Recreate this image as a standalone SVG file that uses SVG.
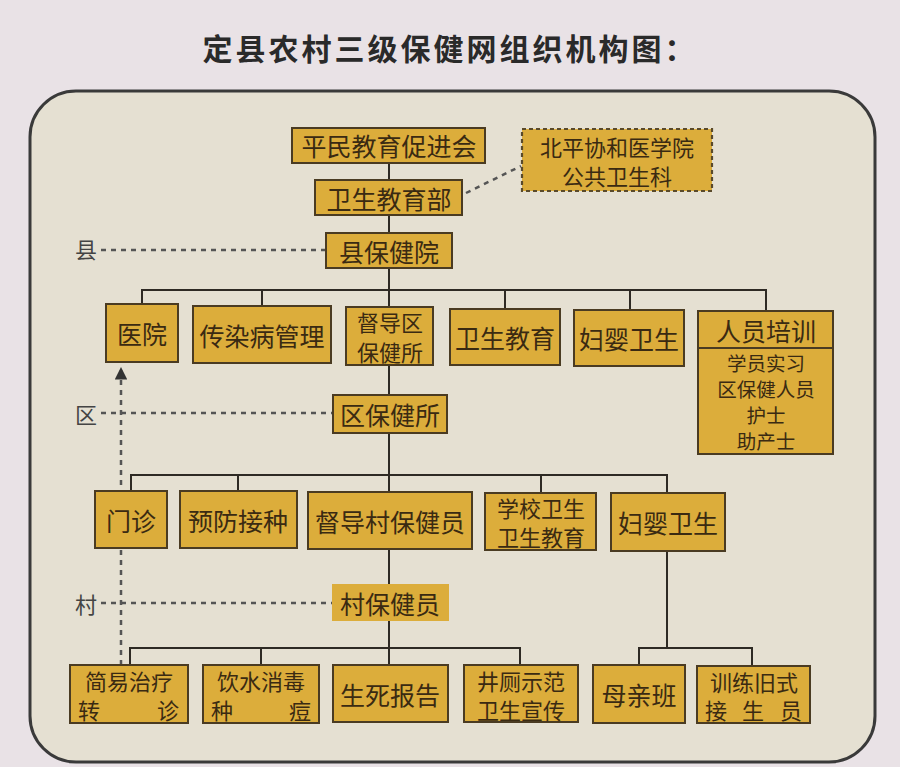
<svg xmlns="http://www.w3.org/2000/svg" width="900" height="767" viewBox="0 0 900 767">
<defs>
<style>
.bx{fill:#dcad3b;stroke:#4a3b22;stroke-width:2}
.nb{fill:#dcad3b;stroke:none}
.db{fill:#dcad3b;stroke:#5a4a2a;stroke-width:2.2;stroke-dasharray:4 3}
.t{font-family:"Noto Sans CJK SC","Noto Sans",sans-serif;font-size:25px;fill:#3a2a12;text-anchor:middle;dominant-baseline:central}
.t2{font-size:22px}
.t3{font-size:19.5px}
.lb{font-family:"Noto Sans CJK SC","Noto Sans",sans-serif;font-size:22px;fill:#444;text-anchor:middle;dominant-baseline:central}
.ln{fill:none;stroke:#2e2a24;stroke-width:2}
.dt{fill:none;stroke:#555;stroke-width:2.5;stroke-dasharray:5 5}
</style>
<marker id="ah" viewBox="0 0 10 10" refX="10" refY="5" markerWidth="5" markerHeight="5" orient="auto">
<path d="M0,0 L10,5 L0,10 z" fill="#333"/>
</marker>
</defs>
<rect x="0" y="0" width="900" height="767" fill="#e9e2e6"/>
<text x="450" y="47" font-family="'Noto Sans CJK SC',sans-serif" font-size="30" font-weight="bold" fill="#2a2a2a" text-anchor="middle" dominant-baseline="central" letter-spacing="3">定县农村三级保健网组织机构图：</text>
<rect id="frame" x="30" y="91" width="845" height="671" rx="46" ry="46" fill="#e5e0d2" stroke="#3a3a3a" stroke-width="3"/>

<g id="connectors">
<path class="ln" d="M389,163 V180 M389,215 V233 M389,268 V307 M389,365 V395 M389,433 V492 M389,549 V584 M389,621 V665"/>
<path class="ln" d="M142,304 V290 H766 V311 M262,290 V306 M505,290 V309 M630,290 V310"/>
<path class="ln" d="M131,491 V475 H667 V493 M238,475 V491 M541,475 V493"/>
<path class="ln" d="M130,665 V648 H520 V665 M261,648 V665"/>
<path class="ln" d="M667,551 V648 M639,665 V648 H752 V666"/>
<path class="dt" d="M466,193 L521,166"/>
<path class="dt" d="M101,250 H326"/>
<path class="dt" d="M101,413 H333"/>
<path class="dt" d="M101,603 H332"/>
<path class="dt" d="M121,665 V367" marker-end="url(#ah)"/>
</g>

<g id="lbl-xian"><text class="lb" x="86" y="248">县</text></g>
<g id="lbl-qu"><text class="lb" x="86" y="413">区</text></g>
<g id="lbl-cun"><text class="lb" x="86" y="603">村</text></g>

<g id="n-pingmin"><rect class="bx" x="292" y="128" width="193" height="35"/><text class="t" x="389" y="145">平民教育促进会</text></g>
<g id="n-xiehe"><rect class="db" x="522" y="129" width="190" height="62"/><text class="t t2"><tspan x="617" y="146">北平协和医学院</tspan><tspan x="617" y="175">公共卫生科</tspan></text></g>
<g id="n-weisheng"><rect class="bx" x="315" y="180" width="147" height="35"/><text class="t" x="389" y="198">卫生教育部</text></g>
<g id="n-xianbjy"><rect class="bx" x="326" y="233" width="126" height="35"/><text class="t" x="389" y="251">县保健院</text></g>

<g id="n-yiyuan"><rect class="bx" x="106" y="304" width="72" height="58"/><text class="t" x="142" y="333">医院</text></g>
<g id="n-chuanran"><rect class="bx" x="193" y="306" width="138" height="57"/><text class="t" x="262" y="335">传染病管理</text></g>
<g id="n-dudaoqu"><rect class="bx" x="346" y="307" width="87" height="58"/><text class="t t2"><tspan x="390" y="321">督导区</tspan><tspan x="390" y="351">保健所</tspan></text></g>
<g id="n-wsjy1"><rect class="bx" x="450" y="309" width="110" height="56"/><text class="t" x="505" y="337">卫生教育</text></g>
<g id="n-fuying1"><rect class="bx" x="574" y="310" width="110" height="56"/><text class="t" x="629" y="338">妇婴卫生</text></g>
<g id="n-peixun"><rect class="bx" x="698" y="311" width="135" height="143"/><path d="M698,348 H833" fill="none" stroke="#4a3b22" stroke-width="2"/><text class="t" x="766" y="330">人员培训</text><text class="t t3"><tspan x="766" y="362">学员实习</tspan><tspan x="766" y="388">区保健人员</tspan><tspan x="766" y="414">护士</tspan><tspan x="766" y="440">助产士</tspan></text></g>

<g id="n-qubjs"><rect class="bx" x="333" y="395" width="114" height="38"/><text class="t" x="390" y="414">区保健所</text></g>

<g id="n-menzhen"><rect class="bx" x="95" y="491" width="72" height="57"/><text class="t" x="131" y="520">门诊</text></g>
<g id="n-yufang"><rect class="bx" x="180" y="491" width="117" height="57"/><text class="t" x="238" y="520">预防接种</text></g>
<g id="n-dudaocun"><rect class="bx" x="308" y="492" width="164" height="57"/><text class="t" x="390" y="521">督导村保健员</text></g>
<g id="n-xuexiao"><rect class="bx" x="485" y="493" width="111" height="57"/><text class="t t2"><tspan x="541" y="507">学校卫生</tspan><tspan x="541" y="536">卫生教育</tspan></text></g>
<g id="n-fuying2"><rect class="bx" x="611" y="493" width="114" height="58"/><text class="t" x="668" y="522">妇婴卫生</text></g>

<g id="n-cunbjy"><rect class="nb" x="332" y="584" width="117" height="37"/><text class="t" x="390" y="603">村保健员</text></g>

<g id="n-jianyi"><rect class="bx" x="70" y="665" width="118" height="58"/><text class="t t2"><tspan x="129" y="680">简易治疗</tspan><tspan x="89" y="709">转</tspan><tspan x="168" y="709">诊</tspan></text></g>
<g id="n-yinshui"><rect class="bx" x="203" y="665" width="116" height="58"/><text class="t t2"><tspan x="261" y="680">饮水消毒</tspan><tspan x="222" y="709">种</tspan><tspan x="300" y="709">痘</tspan></text></g>
<g id="n-shengsi"><rect class="bx" x="333" y="665" width="115" height="57"/><text class="t" x="390" y="694">生死报告</text></g>
<g id="n-jingce"><rect class="bx" x="464" y="665" width="114" height="57"/><text class="t t2"><tspan x="521" y="680">井厕示范</tspan><tspan x="521" y="709">卫生宣传</tspan></text></g>
<g id="n-muqin"><rect class="bx" x="593" y="665" width="92" height="58"/><text class="t" x="639" y="694">母亲班</text></g>
<g id="n-xunlian"><rect class="bx" x="697" y="666" width="113" height="57"/><text class="t t2"><tspan x="754" y="681">训练旧式</tspan><tspan x="716" y="709">接</tspan><tspan x="753" y="709">生</tspan><tspan x="791" y="709">员</tspan></text></g>
</svg>
